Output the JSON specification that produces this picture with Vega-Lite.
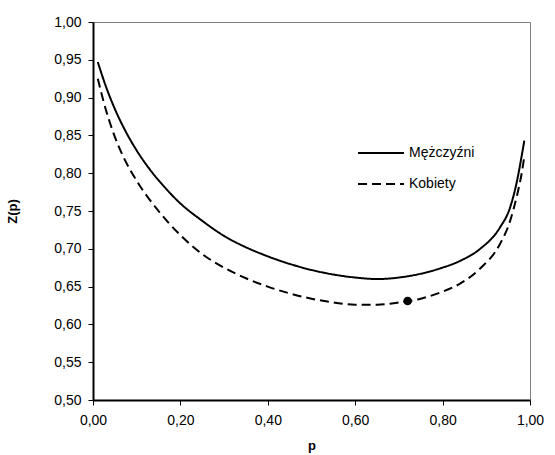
{
  "$schema": "https://vega.github.io/schema/vega-lite/v6.json",
  "width": 437,
  "height": 378,
  "autosize": "none",
  "padding": {"left": 93, "top": 22, "right": 25, "bottom": 55},
  "background": "white",
  "config": {
    "view": {"stroke": "#808080", "strokeWidth": 1},
    "font": "Liberation Sans",
    "axis": {"grid": false, "domainColor": "black", "domainWidth": 2, "tickColor": "black", "tickWidth": 1, "tickSize": 5, "labelFont": "Liberation Sans", "labelFontSize": 14, "labelColor": "#000", "labelOverlap": false, "labelFlush": false, "titleFont": "Liberation Sans", "titleFontSize": 13, "titleFontWeight": "bold", "titleColor": "#000"}
  },
  "datasets": {
    "curves": [
      {"series": "Mężczyźni", "p": 0.011, "z": 0.947},
      {"series": "Mężczyźni", "p": 0.03, "z": 0.914},
      {"series": "Mężczyźni", "p": 0.05, "z": 0.885},
      {"series": "Mężczyźni", "p": 0.075, "z": 0.855},
      {"series": "Mężczyźni", "p": 0.10, "z": 0.830},
      {"series": "Mężczyźni", "p": 0.13, "z": 0.805},
      {"series": "Mężczyźni", "p": 0.16, "z": 0.784},
      {"series": "Mężczyźni", "p": 0.20, "z": 0.760},
      {"series": "Mężczyźni", "p": 0.25, "z": 0.737},
      {"series": "Mężczyźni", "p": 0.30, "z": 0.717},
      {"series": "Mężczyźni", "p": 0.35, "z": 0.702},
      {"series": "Mężczyźni", "p": 0.40, "z": 0.690},
      {"series": "Mężczyźni", "p": 0.45, "z": 0.680},
      {"series": "Mężczyźni", "p": 0.50, "z": 0.672},
      {"series": "Mężczyźni", "p": 0.55, "z": 0.666},
      {"series": "Mężczyźni", "p": 0.60, "z": 0.662},
      {"series": "Mężczyźni", "p": 0.65, "z": 0.660},
      {"series": "Mężczyźni", "p": 0.70, "z": 0.662},
      {"series": "Mężczyźni", "p": 0.75, "z": 0.667},
      {"series": "Mężczyźni", "p": 0.794, "z": 0.674},
      {"series": "Mężczyźni", "p": 0.840, "z": 0.684},
      {"series": "Mężczyźni", "p": 0.886, "z": 0.700},
      {"series": "Mężczyźni", "p": 0.931, "z": 0.728},
      {"series": "Mężczyźni", "p": 0.954, "z": 0.754},
      {"series": "Mężczyźni", "p": 0.970, "z": 0.789},
      {"series": "Mężczyźni", "p": 0.981, "z": 0.823},
      {"series": "Mężczyźni", "p": 0.987, "z": 0.843},
      {"series": "Kobiety", "p": 0.011, "z": 0.925},
      {"series": "Kobiety", "p": 0.025, "z": 0.893},
      {"series": "Kobiety", "p": 0.045, "z": 0.856},
      {"series": "Kobiety", "p": 0.07, "z": 0.821},
      {"series": "Kobiety", "p": 0.10, "z": 0.790},
      {"series": "Kobiety", "p": 0.15, "z": 0.750},
      {"series": "Kobiety", "p": 0.20, "z": 0.718},
      {"series": "Kobiety", "p": 0.25, "z": 0.693},
      {"series": "Kobiety", "p": 0.30, "z": 0.675},
      {"series": "Kobiety", "p": 0.35, "z": 0.661},
      {"series": "Kobiety", "p": 0.40, "z": 0.650},
      {"series": "Kobiety", "p": 0.45, "z": 0.641},
      {"series": "Kobiety", "p": 0.50, "z": 0.634},
      {"series": "Kobiety", "p": 0.55, "z": 0.629},
      {"series": "Kobiety", "p": 0.60, "z": 0.626},
      {"series": "Kobiety", "p": 0.65, "z": 0.626},
      {"series": "Kobiety", "p": 0.70, "z": 0.629},
      {"series": "Kobiety", "p": 0.75, "z": 0.634},
      {"series": "Kobiety", "p": 0.794, "z": 0.642},
      {"series": "Kobiety", "p": 0.840, "z": 0.654},
      {"series": "Kobiety", "p": 0.886, "z": 0.674},
      {"series": "Kobiety", "p": 0.931, "z": 0.706},
      {"series": "Kobiety", "p": 0.954, "z": 0.736},
      {"series": "Kobiety", "p": 0.970, "z": 0.770},
      {"series": "Kobiety", "p": 0.981, "z": 0.800},
      {"series": "Kobiety", "p": 0.987, "z": 0.822}
    ],
    "dot": [{"p": 0.72, "z": 0.631}]
  },
  "encoding": {
    "x": {"field": "p", "type": "quantitative", "scale": {"domain": [0, 1], "nice": false},
          "axis": {"values": [0, 0.2, 0.4, 0.6, 0.8, 1], "title": "p", "labelExpr": "replace(format(datum.value, '.2f'), '.', ',')", "labelPadding": 8, "titlePadding": 12}},
    "y": {"field": "z", "type": "quantitative", "scale": {"domain": [0.5, 1], "nice": false, "zero": false},
          "axis": {"values": [0.5, 0.55, 0.6, 0.65, 0.7, 0.75, 0.8, 0.85, 0.9, 0.95, 1], "title": "Z(p)", "labelExpr": "replace(format(datum.value, '.2f'), '.', ',')", "labelPadding": 7, "titlePadding": 34}}
  },
  "layer": [
    {
      "data": {"name": "curves"},
      "mark": {"type": "line", "interpolate": "monotone", "strokeWidth": 2, "color": "black"},
      "encoding": {
        "strokeDash": {"field": "series", "type": "nominal",
          "scale": {"domain": ["Mężczyźni", "Kobiety"], "range": [[1, 0], [9, 5]]},
          "legend": {"title": null, "orient": "none", "legendX": 264, "legendY": 107, "symbolType": "stroke", "symbolSize": 2116, "symbolStrokeWidth": 2, "symbolStrokeColor": "black", "labelFontSize": 14, "labelFont": "Liberation Sans", "labelColor": "#000", "labelOffset": 4, "rowPadding": -11}}
      }
    },
    {
      "data": {"name": "dot"},
      "mark": {"type": "point", "filled": true, "color": "black", "size": 75, "opacity": 1}
    }
  ]
}
